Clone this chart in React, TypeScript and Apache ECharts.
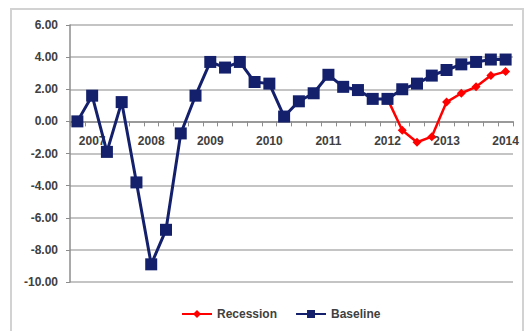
import React, { useEffect, useRef } from "react";
import * as echarts from "echarts";

const categories: string[] = [
  "2006 Q4",
  "2007 Q1", "2007 Q2", "2007 Q3", "2007 Q4",
  "2008 Q1", "2008 Q2", "2008 Q3", "2008 Q4",
  "2009 Q1", "2009 Q2", "2009 Q3", "2009 Q4",
  "2010 Q1", "2010 Q2", "2010 Q3", "2010 Q4",
  "2011 Q1", "2011 Q2", "2011 Q3", "2011 Q4",
  "2012 Q1", "2012 Q2", "2012 Q3", "2012 Q4",
  "2013 Q1", "2013 Q2", "2013 Q3", "2013 Q4",
  "2014 Q1",
];

const baseline: number[] = [
  0.0, 1.6, -1.9, 1.2, -3.8, -8.9, -6.75, -0.75, 1.6, 3.7,
  3.35, 3.7, 2.45, 2.35, 0.3, 1.25, 1.75, 2.9, 2.15, 1.95,
  1.4, 1.4, 2.0, 2.35, 2.85, 3.2, 3.55, 3.7, 3.85, 3.85,
];

const recession: (number | null)[] = [
  null, null, null, null, null, null, null, null, null, null,
  null, null, null, null, null, null, null, null, null, null,
  null, 1.4, -0.55, -1.3, -0.95, 1.2, 1.75, 2.15, 2.85, 3.1,
];

const yTicks = { min: -10, max: 6, interval: 2 };

const W = 528;
const H = 331;
const GRID_TOP = 25;
const GRID_BOTTOM = 49;

export default function App() {
  const ref = useRef<HTMLDivElement>(null);
  useEffect(() => {
    if (!ref.current) return;
    const chart = echarts.init(ref.current, null, { renderer: "svg" });
    const font = "'Liberation Sans', Arial, sans-serif";
    const plotH = H - GRID_TOP - GRID_BOTTOM;
    const zeroOffset = -((0 - yTicks.min) / (yTicks.max - yTicks.min)) * plotH;
    chart.setOption({
      animation: false,
      backgroundColor: "#ffffff",
      textStyle: { fontFamily: font },
      graphic: [
        {
          type: "rect",
          shape: { x: 11, y: 9, width: 512, height: 340 },
          style: { fill: "none", stroke: "#d2d2d2", lineWidth: 2 },
          silent: true,
          z: -10,
        },
      ],
      grid: { left: 70, right: 15, top: GRID_TOP, bottom: GRID_BOTTOM },
      legend: {
        left: 176,
        top: 303,
        itemWidth: 30,
        itemHeight: 10,
        itemGap: 18,
        textStyle: { fontSize: 12, fontWeight: "bold", color: "#404040", fontFamily: font },
        data: ["Recession", "Baseline"],
      },
      xAxis: {
        type: "category",
        data: categories,
        boundaryGap: true,
        position: "bottom",
        offset: zeroOffset,
        axisLine: { onZero: false, lineStyle: { color: "#8c8c8c", width: 1.5 } },
        axisTick: { show: true, interval: 0, length: 5, lineStyle: { color: "#8c8c8c" } },
        axisLabel: {
          interval: (idx: number) => idx % 4 === 1,
          formatter: (v: string) => v.slice(0, 4),
          margin: 14,
          fontSize: 12,
          fontWeight: "bold",
          color: "#404040",
          fontFamily: font,
        },
        splitLine: { show: false },
      },
      yAxis: {
        type: "value",
        min: yTicks.min,
        max: yTicks.max,
        interval: yTicks.interval,
        axisLine: { show: true, lineStyle: { color: "#8c8c8c", width: 1.5 } },
        axisTick: { show: true, length: 4, lineStyle: { color: "#8c8c8c" } },
        axisLabel: {
          formatter: (v: number) => v.toFixed(2),
          margin: 12,
          fontSize: 12,
          fontWeight: "bold",
          color: "#404040",
          fontFamily: font,
        },
        splitLine: { show: true, lineStyle: { color: "#b0b0b0", width: 1.5 } },
      },
      series: [
        {
          name: "Recession",
          type: "line",
          data: recession,
          symbol: "diamond",
          symbolSize: 9,
          showAllSymbol: true,
          connectNulls: false,
          itemStyle: { color: "#ff0000" },
          lineStyle: { color: "#ff0000", width: 2.5 },
        },
        {
          name: "Baseline",
          type: "line",
          data: baseline,
          symbol: "rect",
          symbolSize: 12,
          showAllSymbol: true,
          itemStyle: { color: "#14206b" },
          lineStyle: { color: "#14206b", width: 3 },
        },
      ],
    });
    return () => chart.dispose();
  }, []);
  return <div ref={ref} style={{ width: W, height: H, position: "absolute", left: 0, top: 0 }} />;
}
